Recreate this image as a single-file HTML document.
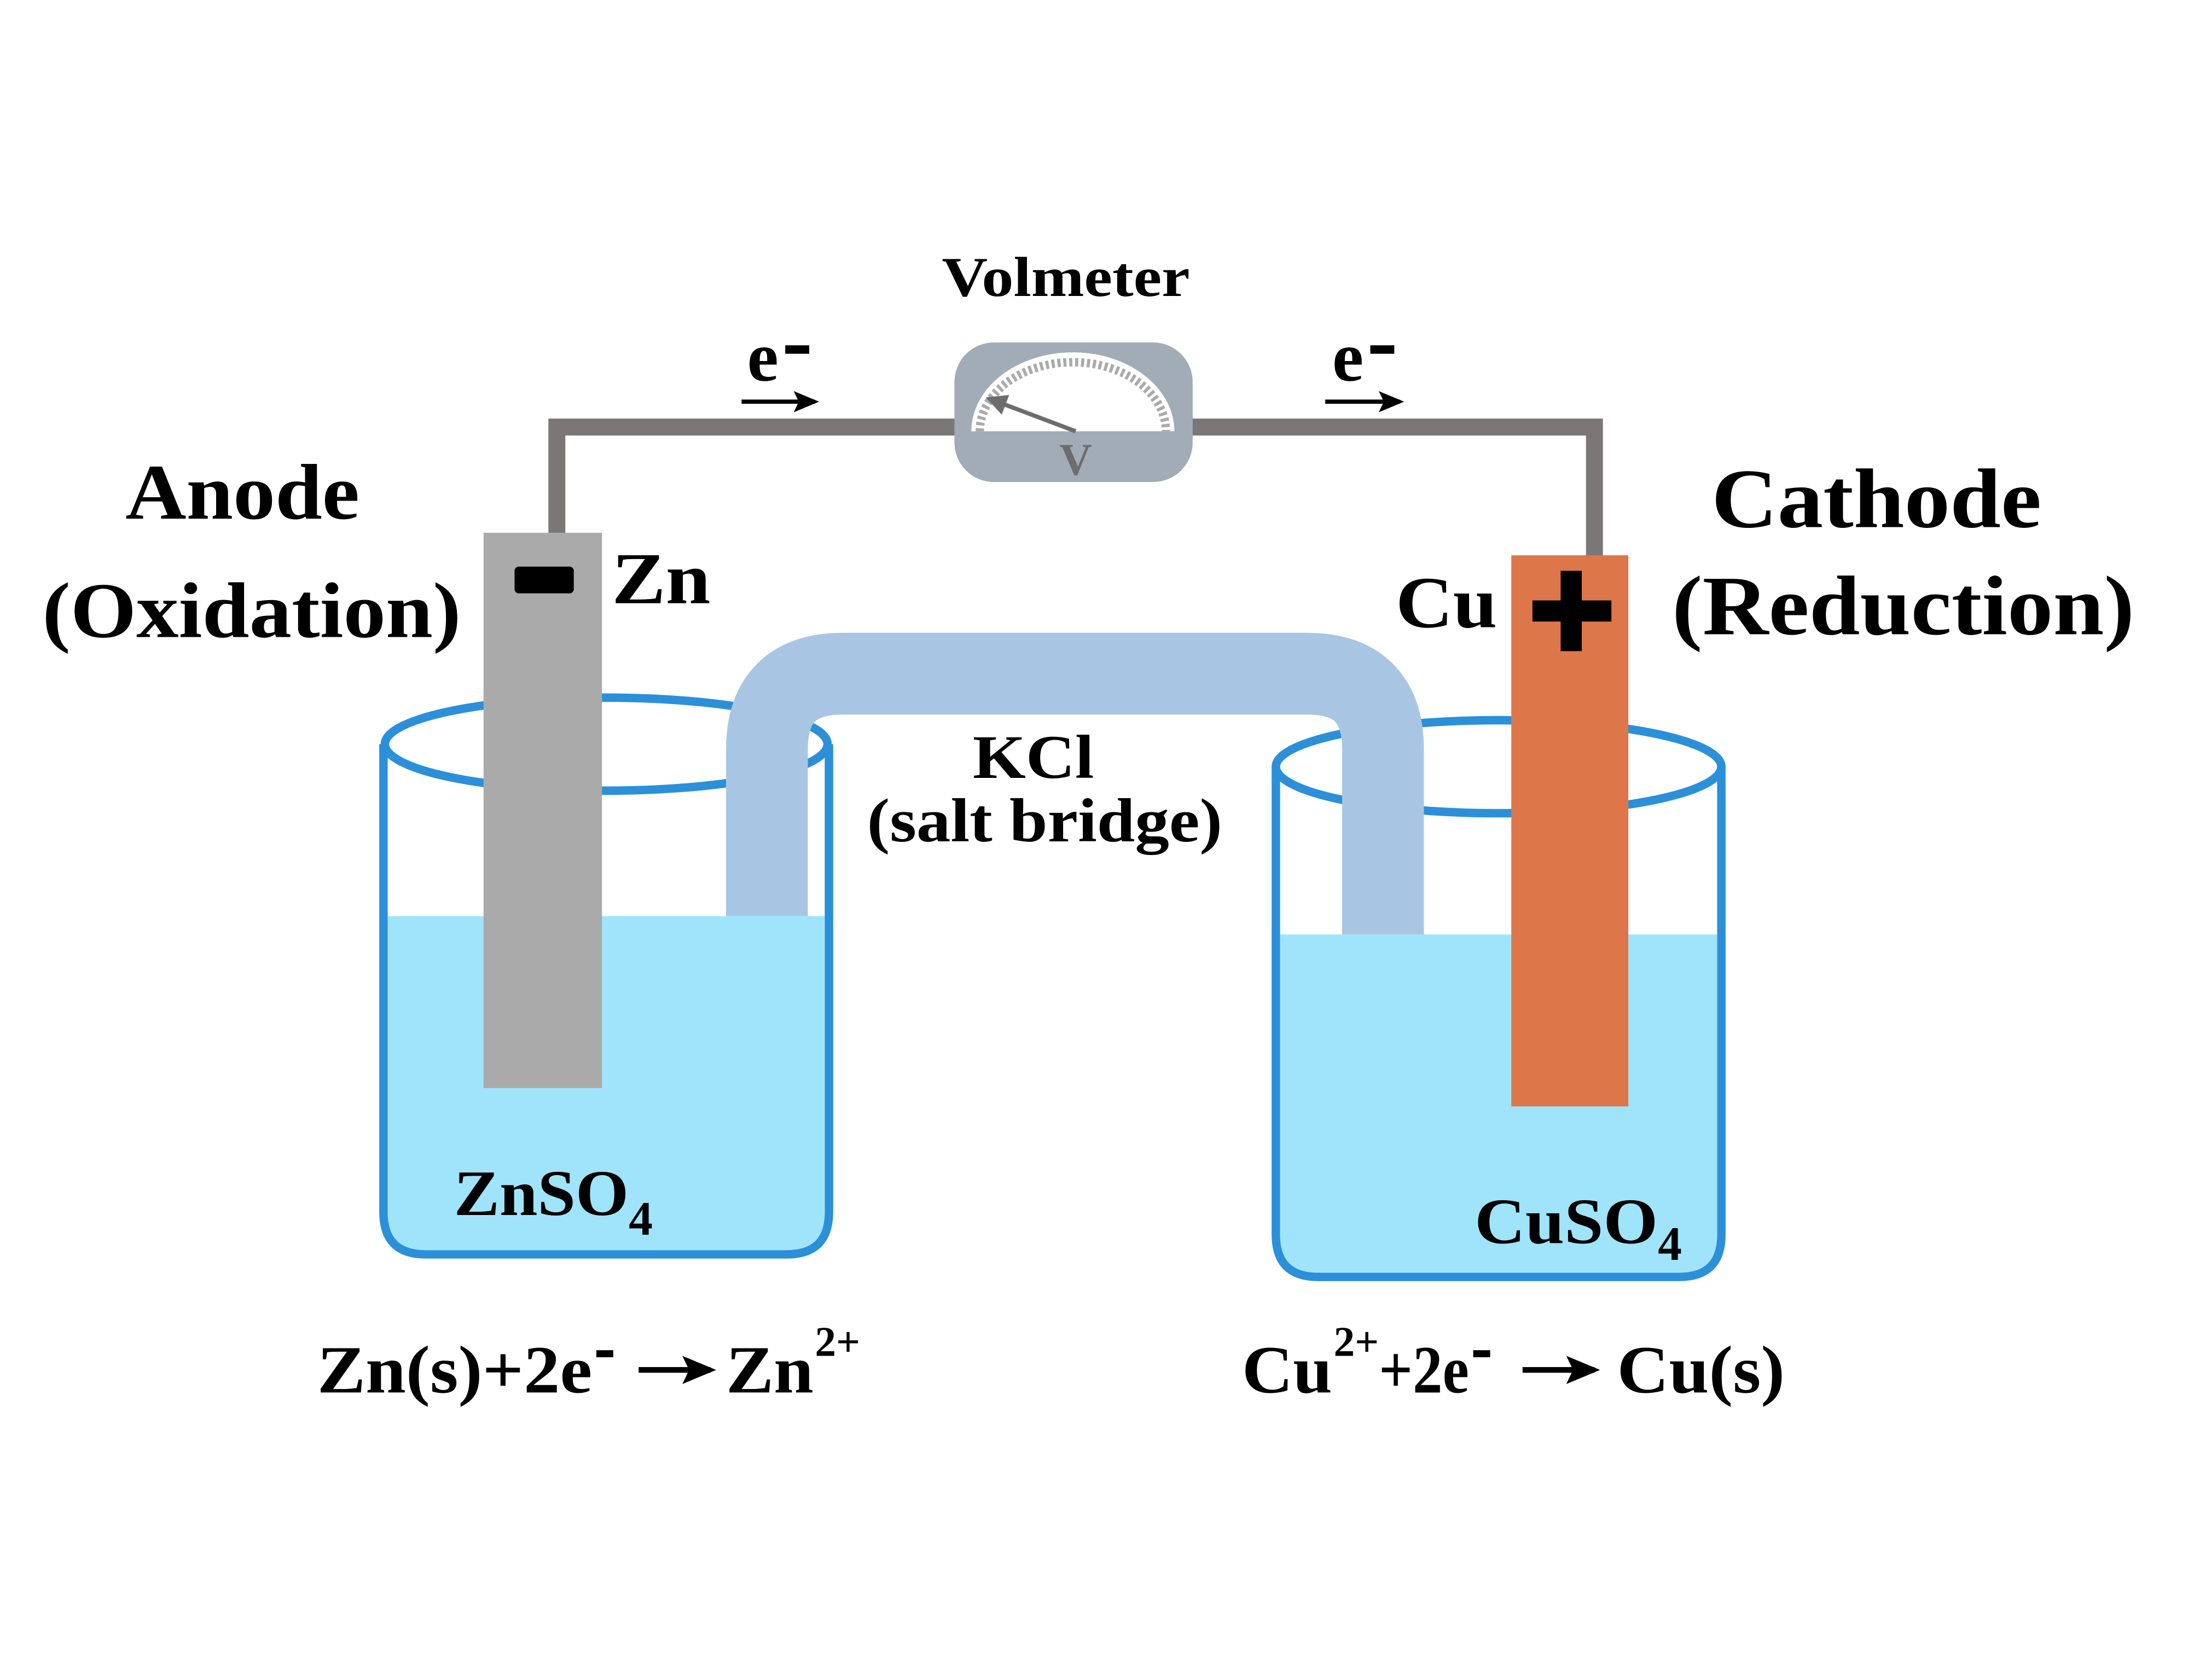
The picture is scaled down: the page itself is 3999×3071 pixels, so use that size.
<!DOCTYPE html>
<html><head><meta charset="utf-8"><style>
html,body{margin:0;padding:0;background:#fff;}
svg{display:block;}
text{font-family:"Liberation Serif",serif;font-weight:bold;fill:#000;}
</style></head><body>
<svg width="3999" height="3071" viewBox="0 0 1552 1192" preserveAspectRatio="none" xmlns="http://www.w3.org/2000/svg">
<defs>
<marker id="ah" markerWidth="6" markerHeight="6" refX="5" refY="3" orient="auto" markerUnits="strokeWidth"><path d="M0,0.5 L6,3 L0,5.5 L1.2,3 Z" fill="#000"/></marker>
<marker id="nh" markerWidth="5" markerHeight="5" refX="4" refY="2.5" orient="auto" markerUnits="strokeWidth"><path d="M0,0 L5,2.5 L0,5 Z" fill="#6d6d6d"/></marker>
</defs>
<rect width="1552" height="1192" fill="#fff"/>
<path d="M395 380 L395 303 L1131 303 L1131 396" fill="none" stroke="#7b7777" stroke-width="12"/>
<rect x="677" y="243" width="169" height="99" rx="28" fill="#a2acb6"/>
<path d="M689 306 A72 56 0 0 1 833 306 Z" fill="#fff"/>
<path d="M695 306 A66 49 0 0 1 827 306" fill="none" stroke="#aaaaaa" stroke-width="6" stroke-dasharray="2.2 2"/>
<line x1="763" y1="306" x2="702" y2="283" stroke="#6d6d6d" stroke-width="3" marker-end="url(#nh)"/>
<text x="763" y="337" font-size="32" text-anchor="middle" style="fill:#6d6d6d">V</text>
<text x="756" y="210" font-size="40" text-anchor="middle" textLength="176" lengthAdjust="spacingAndGlyphs">Volmeter</text>
<text x="530" y="270" font-size="50">e</text><rect x="557" y="245" width="17" height="6" fill="#000"/>
<line x1="526" y1="285" x2="578" y2="285" stroke="#000" stroke-width="3" marker-end="url(#ah)"/>
<text x="945" y="270" font-size="50">e</text><rect x="972" y="245" width="17" height="6" fill="#000"/>
<line x1="940" y1="285" x2="993" y2="285" stroke="#000" stroke-width="3" marker-end="url(#ah)"/>
<text x="172" y="368" font-size="56" text-anchor="middle" textLength="166" lengthAdjust="spacingAndGlyphs">Anode</text>
<text x="30" y="452" font-size="56" textLength="297" lengthAdjust="spacingAndGlyphs">(Oxidation)</text>
<text x="1331" y="374" font-size="60" text-anchor="middle" textLength="234" lengthAdjust="spacingAndGlyphs">Cathode</text>
<text x="1186" y="450" font-size="60" textLength="328" lengthAdjust="spacingAndGlyphs">(Reduction)</text>
<path d="M272 528 L272 860 Q272 890 302 890 L558 890 Q588 890 588 860 L588 528" fill="none" stroke="#2b90d9" stroke-width="6"/>
<path d="M275 650 L585 650 L585 860 Q585 887 558 887 L302 887 Q275 887 275 860 Z" fill="#a0e4fc"/>
<ellipse cx="430" cy="528" rx="157" ry="33" fill="none" stroke="#2b90d9" stroke-width="6"/>
<path d="M905 544 L905 876 Q905 906 935 906 L1191 906 Q1221 906 1221 876 L1221 544" fill="none" stroke="#2b90d9" stroke-width="6"/>
<path d="M908 663 L1218 663 L1218 876 Q1218 903 1191 903 L935 903 Q908 903 908 876 Z" fill="#a0e4fc"/>
<ellipse cx="1063" cy="544" rx="158" ry="33" fill="none" stroke="#2b90d9" stroke-width="6"/>
<path d="M544 650 L544 532 Q544 478 598 478 L927 478 Q981 478 981 532 L981 663" fill="none" stroke="#a8c6e4" stroke-width="58"/>
<rect x="343" y="378" width="84" height="394" fill="#aaaaaa"/>
<rect x="365" y="402" width="42" height="19" rx="3" fill="#000"/>
<rect x="1072" y="394" width="83" height="391" fill="#dd774a"/>
<rect x="1087" y="426" width="56" height="15" fill="#000"/>
<rect x="1107" y="405" width="15" height="57" fill="#000"/>
<text x="434" y="428" font-size="52" textLength="70" lengthAdjust="spacingAndGlyphs">Zn</text>
<text x="990" y="445" font-size="52" textLength="72" lengthAdjust="spacingAndGlyphs">Cu</text>
<text x="733" y="552" font-size="44" text-anchor="middle" textLength="86" lengthAdjust="spacingAndGlyphs">KCl</text>
<text x="741" y="597" font-size="44" text-anchor="middle" textLength="252" lengthAdjust="spacingAndGlyphs">(salt bridge)</text>
<text x="322" y="862" font-size="46" textLength="124" lengthAdjust="spacingAndGlyphs">ZnSO</text><text x="446" y="876" font-size="34">4</text>
<text x="1046" y="882" font-size="46" textLength="130" lengthAdjust="spacingAndGlyphs">CuSO</text><text x="1176" y="894" font-size="34">4</text>
<text x="225" y="988" font-size="48" textLength="195" lengthAdjust="spacingAndGlyphs">Zn(s)+2e</text>
<rect x="423" y="958" width="12" height="5" fill="#000"/>
<line x1="453" y1="972" x2="504" y2="972" stroke="#000" stroke-width="4" marker-end="url(#ah)"/>
<text x="515" y="988" font-size="48" textLength="62" lengthAdjust="spacingAndGlyphs">Zn</text>
<text x="578" y="962" font-size="30">2+</text>
<text x="881" y="988" font-size="48" textLength="64" lengthAdjust="spacingAndGlyphs">Cu</text>
<text x="946" y="962" font-size="30">2+</text>
<text x="978" y="988" font-size="48" textLength="64" lengthAdjust="spacingAndGlyphs">+2e</text>
<rect x="1045" y="958" width="12" height="5" fill="#000"/>
<line x1="1080" y1="972" x2="1131" y2="972" stroke="#000" stroke-width="4" marker-end="url(#ah)"/>
<text x="1147" y="988" font-size="48" textLength="119" lengthAdjust="spacingAndGlyphs">Cu(s)</text>
</svg>
</body></html>
